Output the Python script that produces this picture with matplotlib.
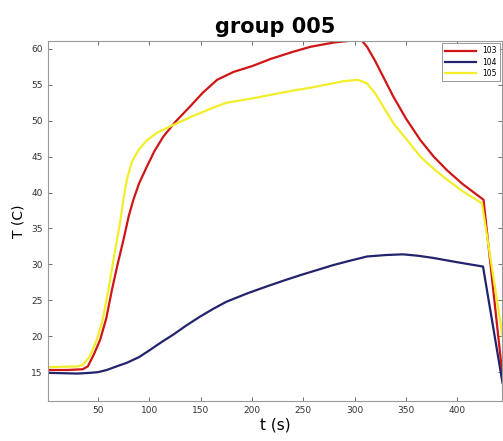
import matplotlib.pyplot as plt

# sensor 103 (red)
t103 = [2, 20, 35, 40, 46, 52, 58, 63.4, 69, 74.7, 80, 84.4, 90, 97.5, 105, 113.6, 125, 139.7,
        152, 166, 182, 200, 218, 240, 257, 280, 300, 306, 312, 320, 337.5, 350, 364, 377, 390,
        405, 425.5, 444]
T103 = [15.3, 15.3, 15.4, 15.8, 17.5, 19.5, 22.5, 26.4, 30, 33.4, 36.8, 39.0, 41.3, 43.6, 45.8,
        47.8, 49.8, 52, 53.9, 55.7, 56.8, 57.6, 58.6, 59.6, 60.3, 60.9, 61.2, 61.3, 60.3, 58.3,
        53.4, 50.3, 47.3, 45, 43.1, 41.2, 39, 14.5]

# sensor 104 (blue)
t104 = [2, 30, 42, 50, 58.5, 68, 78, 90, 100.7, 112, 123, 136, 149, 162, 175, 196, 217.6, 232,
        247, 263, 279, 295, 312, 330, 347, 362, 376.5, 400, 425, 444]
T104 = [14.9, 14.8, 14.9, 15.0, 15.3, 15.8, 16.3, 17.1, 18.1, 19.2, 20.2, 21.5, 22.7, 23.8, 24.8,
        26.0, 27.1, 27.8, 28.5, 29.2, 29.9, 30.5, 31.1, 31.3, 31.4, 31.2, 30.9, 30.3, 29.7, 13.5]

# sensor 105 (yellow)
t105 = [2, 30, 35, 42, 48.7, 54, 60, 66, 71.4, 75, 78, 83, 89.3, 97, 107, 120, 140, 160, 175,
        200, 218, 240, 257, 289, 303, 312, 320, 337.5, 350, 364, 377, 390, 405, 424, 444]
T105 = [15.7, 15.8, 16, 17.2, 19.5, 22, 26.4, 31.5, 35.8, 39.3, 41.8, 44.3, 45.9, 47.2, 48.3,
        49.2, 50.5, 51.7, 52.5, 53.1, 53.6, 54.2, 54.6, 55.5, 55.7, 55.2, 53.8, 49.7, 47.5, 45,
        43.3, 41.8, 40.2, 38.5, 20]

labels = ['103', '104', '105']

fig = plt.figure(figsize=(5.03, 4.41), dpi=100)
ax = fig.add_axes([0.095, 0.091, 0.903, 0.816])

ax.plot(t103, T103, color='#d01515', linewidth=1.6, label=labels[0])
ax.plot(t104, T104, color='#23236e', linewidth=1.6, label=labels[1])
ax.plot(t105, T105, color='#f2ee2a', linewidth=1.6, label=labels[2])

ax.set_xlim(1, 443.5)
ax.set_ylim(11, 61.1)
ax.set_xticks([50, 100, 150, 200, 250, 300, 350, 400])
ax.set_yticks([15, 20, 25, 30, 35, 40, 45, 50, 55, 60])
ax.tick_params(direction='in', top=True, right=True, labelsize=6.5, length=3,
               colors='#555555', labelcolor='#333333', width=0.6)
for s in ax.spines.values():
    s.set_color('#999999')
    s.set_linewidth(0.8)

ax.set_title('group 005', fontsize=15, fontweight='bold', pad=6)
ax.set_xlabel('t (s)', fontsize=11, labelpad=2)
ax.set_ylabel('T (C)', fontsize=10, labelpad=4)

leg = ax.legend(loc='upper right', fontsize=5.5, fancybox=False, framealpha=1,
                edgecolor='#888888', handlelength=4, borderpad=0.4,
                labelspacing=0.3, borderaxespad=0.3)
leg.get_frame().set_linewidth(0.6)

plt.savefig('out.png', dpi=100)
